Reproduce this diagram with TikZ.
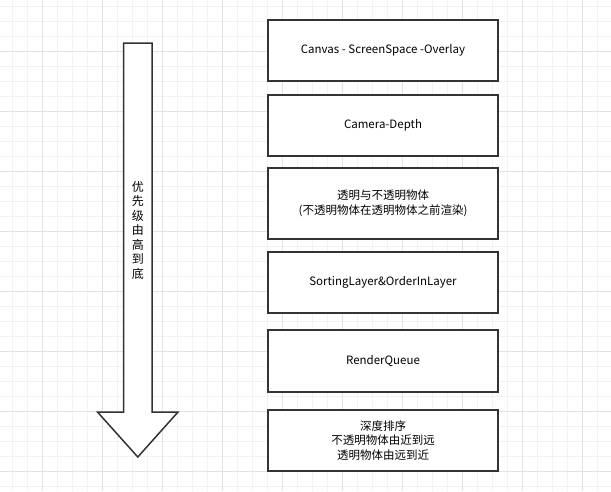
\documentclass[tikz,border=0pt]{standalone}
\usepackage{fontspec}
\setmainfont{Noto Sans CJK SC}
\usetikzlibrary{positioning,shapes.arrows}
\definecolor{gridminor}{HTML}{F2F2F2}
\definecolor{gridmajor}{HTML}{E3E3E3}
\definecolor{edge}{HTML}{333333}
\tikzset{
  layer/.style={draw=edge, line width=1.5pt, fill=white, minimum width=230pt,
    align=center, font=\fontsize{11.5}{14.5}\selectfont, text=black},
  bigarrow/.style={draw=edge, line width=1.5pt, fill=white, line join=miter}
}
\begin{document}
\begin{tikzpicture}[x=1pt,y=-1pt]
  \useasboundingbox (0,0) rectangle (611,491);
  % grid
  \foreach \g in {0,15,...,611} \draw[gridminor, line width=0.8pt] (\g+12.7,0) -- (\g+12.7,491);
  \foreach \g in {0,15,...,491} \draw[gridminor, line width=0.8pt] (0,\g+6.7) -- (611,\g+6.7);
  \foreach \g in {0,60,...,600} \draw[gridmajor, line width=0.8pt] (\g+42.7,0) -- (\g+42.7,491);
  \foreach \g in {0,60,...,480} \draw[gridmajor, line width=0.8pt] (0,\g+51.7) -- (611,\g+51.7);
  % arrow
  \draw[bigarrow] (123.7,43) -- (152,43) -- (152,412) -- (178,412) -- (137.8,457)
    -- (97.5,412) -- (123.7,412) -- cycle;
  \node[align=center, font=\fontsize{12}{14.5}\selectfont, inner sep=0pt] (prio) at (137.8,230)
    {优\\先\\级\\由\\高\\到\\底};
  % layers
  \node[layer, minimum height=61pt] (canvas) at (383,50.5) {Canvas - ScreenSpace -Overlay};
  \node[layer, minimum height=61pt] (camera) at (383,125.5) {Camera-Depth};
  \node[layer, minimum height=71pt] (opaque) at (383,203.5) {透明与不透明物体\\(不透明物体在透明物体之前渲染)};
  \node[layer, minimum height=61pt] (sorting) at (383,282.5) {SortingLayer\&OrderInLayer};
  \node[layer, minimum height=62pt] (queue) at (383,361) {RenderQueue};
  \node[layer, minimum height=61pt] (depth) at (383,440.5) {深度排序\\不透明物体由近到远\\透明物体由远到近};
\end{tikzpicture}
\end{document}
